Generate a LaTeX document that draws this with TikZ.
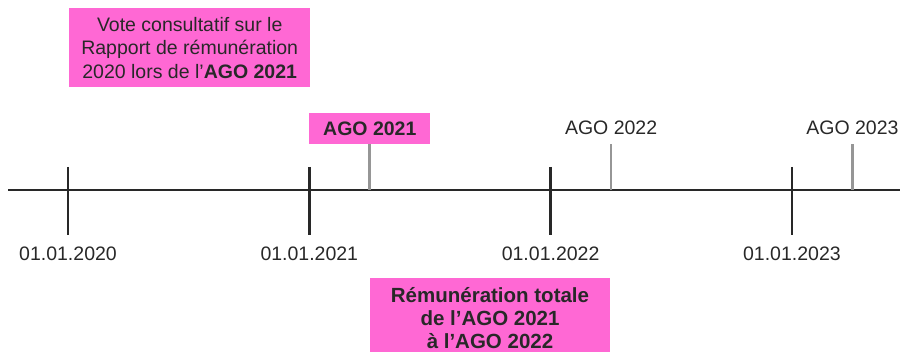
\documentclass[tikz,border=0pt]{standalone}
\usepackage{fontspec}
\setmainfont{Liberation Sans}
\definecolor{agopink}{RGB}{255,104,212}
\definecolor{inkgray}{RGB}{40,40,40}
\definecolor{tickgray}{RGB}{150,150,150}
\tikzset{
	labeltext/.style = {align=center, inner sep=0pt, text=inkgray, font=\fontsize{19.5}{23.5}\selectfont},
	pinkbox/.style = {labeltext, fill=agopink},
	datelabel/.style = {labeltext},
	agolabel/.style = {labeltext},
	majortick/.style = {draw=inkgray, line width=2.7pt},
	minortick/.style = {draw=tickgray, line width=2.7pt}
}

\begin{document}
\begin{tikzpicture}[x=1pt, y=-1pt]
\useasboundingbox (0,0) rectangle (907,352);
% time axis
\coordinate (axstart) at (8,190);
\coordinate (axend) at (900,190);
\draw [majortick] (axstart) -- (axend);
% years and AGO dates
\foreach \yr [count=\i from 0] in {2020,2021,2022,2023}{
	\coordinate (jan\yr) at (68+241.3*\i,190);
	\coordinate (ago\yr) at (128.5+241.3*\i,190);
	\draw [majortick] ([yshift=23pt]jan\yr) -- ([yshift=-45pt]jan\yr);
	\node [datelabel] (date\yr) at ([yshift=-64pt]jan\yr) {01.01.\yr};
}
\foreach \yr in {2021,2022,2023}{
	\draw [minortick] (ago\yr) -- ([yshift=46pt]ago\yr);
}
\node [agolabel] (lab2022) at ([yshift=62pt]ago2022) {AGO 2022};
\node [agolabel] (lab2023) at ([yshift=62pt]ago2023) {AGO 2023};
% highlighted boxes
\node [pinkbox, minimum width=121pt, minimum height=31pt] (box2021) at ([yshift=61.5pt]ago2021) {\textbf{AGO 2021}};
\node [pinkbox, anchor=north west, minimum width=241pt, minimum height=79pt] (vote) at (69,8)
	{Vote consultatif sur le\\Rapport de rémunération\\2020 lors de l’\textbf{AGO 2021}};
\node [pinkbox, anchor=north, minimum width=240pt, minimum height=80pt, font=\bfseries\fontsize{20.5}{23}\selectfont] (remun) at (490,278)
	{Rémunération totale\\de l’AGO 2021\\à l’AGO 2022};
\end{tikzpicture}
\end{document}
